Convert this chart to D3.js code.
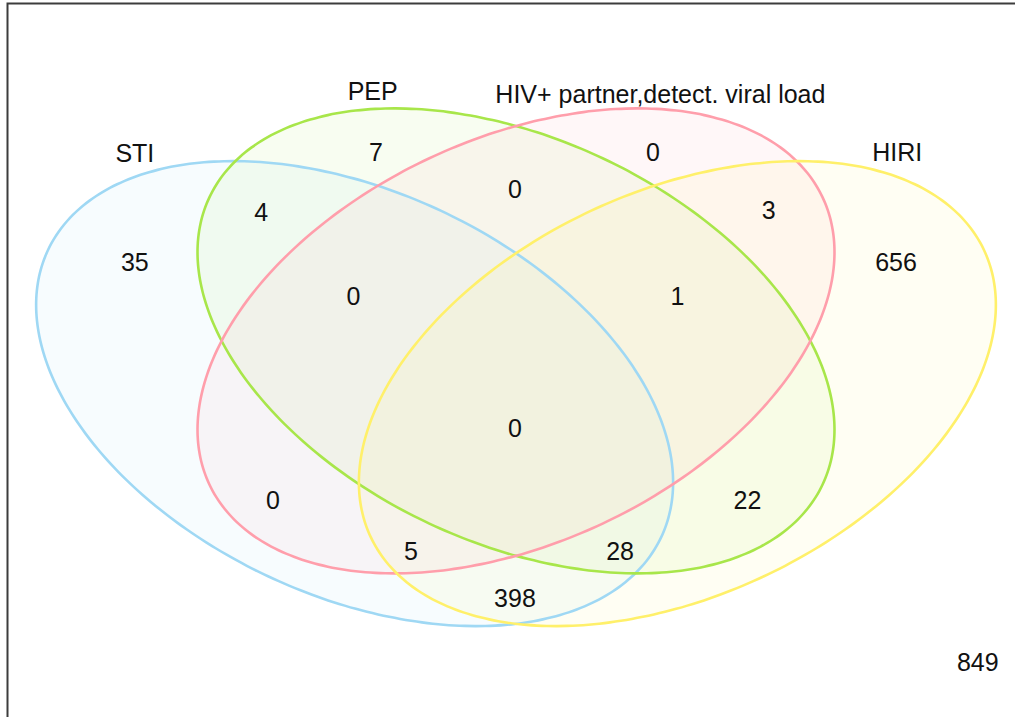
<!DOCTYPE html>
<html>
<head>
<meta charset="utf-8">
<script src="https://cdn.jsdelivr.net/npm/d3@7"></script>
<style>
  body { margin: 0; background: #fff; }
  svg { display: block; }
</style>
</head>
<body>
<div id="container"></div>
<script>
// sets (in drawing order) and the counts of each region of the venn
const setNames = ["STI", "PEP", "HIV+ partner,detect. viral load", "HIRI"];
const setColors = ["#9fd8f4", "#a8e64a", "#ff9eab", "#fff06a"];

// region keys: which sets a region belongs to (A=STI, B=PEP, C=HIV+, D=HIRI)
const regionKeys = ["A", "B", "C", "D", "AB", "BC", "CD", "ABC", "BCD", "ABCD", "AC", "BD", "ACD", "ABD", "AD", "none"];
const regionCounts = [35, 7, 0, 656, 4, 0, 3, 0, 1, 0, 0, 22, 5, 28, 398, 849];

// layout (unit space) for ellipses and text
const ellipses = [
  {cx: 0.348, cy: 0.466, rot: -45},
  {cx: 0.500, cy: 0.534, rot: -45},
  {cx: 0.500, cy: 0.534, rot: 45},
  {cx: 0.652, cy: 0.466, rot: 45}
];
const semiA = 0.3526, semiB = 0.2359;

const setLabelPos = [[0.141, 0.777], [0.365, 0.857], [0.636, 0.852], [0.859, 0.778]];
const regionPos = [
  [0.141, 0.636], [0.368, 0.778], [0.629, 0.778], [0.858, 0.636],
  [0.260, 0.700], [0.499, 0.730], [0.738, 0.703],
  [0.347, 0.592], [0.652, 0.592], [0.499, 0.422],
  [0.271, 0.329], [0.718, 0.329], [0.401, 0.263], [0.598, 0.263],
  [0.499, 0.202], [0.935, 0.120]
];

const width = 1015, height = 717;
const x = d3.scaleLinear().domain([0, 1]).range([-14.85, 1046.85]);
const y = d3.scaleLinear().domain([0, 1]).range([754.75, -20.25]);

const svg = d3.select("#container").append("svg")
  .attr("width", width)
  .attr("height", height)
  .style("font-family", "Arial, 'Liberation Sans', sans-serif");

// frame
svg.append("rect")
  .attr("x", 7.5).attr("y", 3.5)
  .attr("width", 1012).attr("height", 720)
  .attr("fill", "none")
  .attr("stroke", "#3c3c3c")
  .attr("stroke-width", 2);

function ellipsePoints(e) {
  const th = e.rot * Math.PI / 180;
  return d3.range(0, 360, 2).map(deg => {
    const t = deg * Math.PI / 180;
    const ux = semiA * Math.cos(t), uy = semiB * Math.sin(t);
    return [e.cx + ux * Math.cos(th) - uy * Math.sin(th),
            e.cy + ux * Math.sin(th) + uy * Math.cos(th)];
  });
}
const line = d3.line().x(d => x(d[0])).y(d => y(d[1])).curve(d3.curveCardinalClosed);

// fills first, outlines on top
svg.append("g").selectAll("path")
  .data(ellipses)
  .join("path")
  .attr("d", d => line(ellipsePoints(d)))
  .attr("fill", (d, i) => setColors[i])
  .attr("fill-opacity", 0.08)
  .attr("stroke", "none");

svg.append("g").selectAll("path")
  .data(ellipses)
  .join("path")
  .attr("d", d => line(ellipsePoints(d)))
  .attr("fill", "none")
  .attr("stroke", (d, i) => setColors[i])
  .attr("stroke-width", 2.6);

// set names
svg.append("g").selectAll("text")
  .data(setNames)
  .join("text")
  .attr("x", (d, i) => x(setLabelPos[i][0]))
  .attr("y", (d, i) => y(setLabelPos[i][1]))
  .attr("dy", "0.36em")
  .attr("text-anchor", "middle")
  .attr("font-size", 25)
  .attr("fill", "#111")
  .text(d => d);

// region counts
svg.append("g").selectAll("text")
  .data(regionCounts)
  .join("text")
  .attr("class", (d, i) => "region-" + regionKeys[i])
  .attr("x", (d, i) => x(regionPos[i][0]))
  .attr("y", (d, i) => y(regionPos[i][1]))
  .attr("dy", "0.36em")
  .attr("text-anchor", "middle")
  .attr("font-size", 25)
  .attr("fill", "#111")
  .text(d => d);
</script>
</body>
</html>
